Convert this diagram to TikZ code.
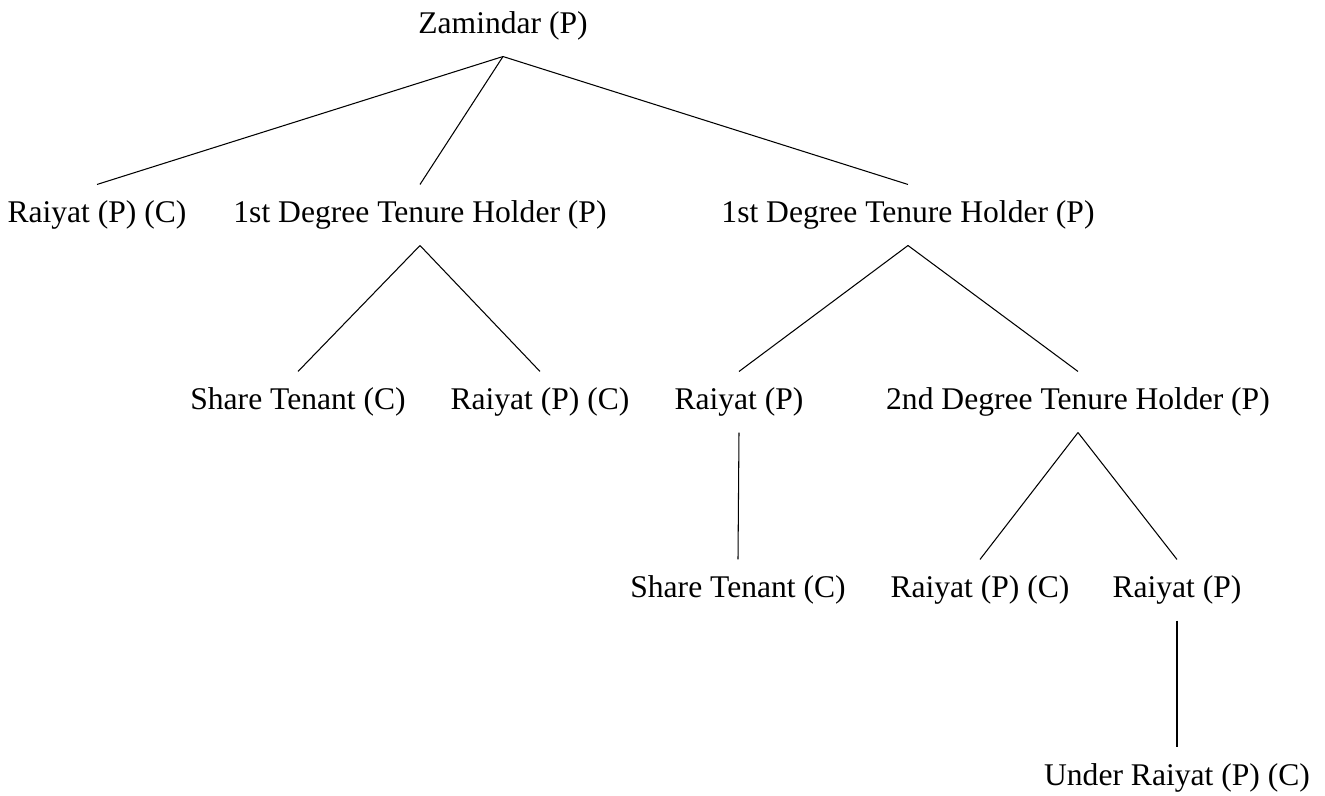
\documentclass[tikz,border=0pt]{standalone}
\usepackage{fontspec}
\setmainfont{Liberation Serif}
\usetikzlibrary{positioning}
\tikzset{
    tnode/.style={
        inner sep=0pt,              % no padding round the text
        minimum height=22.8pt,      % gap above and below the label
        font=\fontsize{12pt}{14pt}\selectfont
    }
}

\begin{document}
\begin{tikzpicture}[x=0.38pt, y=-0.38pt]

\useasboundingbox (0,0) rectangle (1325,796);

\def\rA{26}
\def\rB{215}
\def\rC{402}
\def\rD{590}
\def\rE{778}
% points of the tree
\coordinate (P1) at (503,\rA);
\coordinate (P2) at (97,\rB);
\coordinate (P3) at (420,\rB);
\coordinate (P4) at (908,\rB);
\coordinate (P5) at (298,\rC);
\coordinate (P6) at (540,\rC);
\coordinate (P7) at (739,\rC);
\coordinate (P8) at (1078,\rC);
\coordinate (P9) at (738,\rD);
\coordinate (P10) at (980,\rD);
\coordinate (P11) at (1177,\rD);
\coordinate (P12) at (1177,\rE);

\node[tnode] (zam) at (P1) {Zamindar (P)};
\node[tnode] (rai1) at (P2) {Raiyat (P) (C)};
\node[tnode] (deg1a) at (P3) {1st Degree Tenure Holder (P)};
\node[tnode] (deg1b) at (P4) {1st Degree Tenure Holder (P)};
\node[tnode] (share1) at (P5) {Share Tenant (C)};
\node[tnode] (rai2) at (P6) {Raiyat (P) (C)};
\node[tnode] (rai3) at (P7) {Raiyat (P)};
\node[tnode] (deg2) at (P8) {2nd Degree Tenure Holder (P)};
\node[tnode] (share2) at (P9) {Share Tenant (C)};
\node[tnode] (rai4) at (P10) {Raiyat (P) (C)};
\node[tnode] (rai5) at (P11) {Raiyat (P)};
\node[tnode] (under) at (P12) {Under Raiyat (P) (C)};

\draw (zam.south) -- (rai1.north);
\draw (zam.south) -- (deg1a.north);
\draw (zam.south) -- (deg1b.north);
\draw (deg1a.south) -- (share1.north);
\draw (deg1a.south) -- (rai2.north);
\draw (deg1b.south) -- (rai3.north);
\draw (deg1b.south) -- (deg2.north);
\draw (rai3.south) -- (share2.north);
\draw (deg2.south) -- (rai4.north);
\draw (deg2.south) -- (rai5.north);
\draw (rai5.south) -- (under.north);

\end{tikzpicture}
\end{document}
